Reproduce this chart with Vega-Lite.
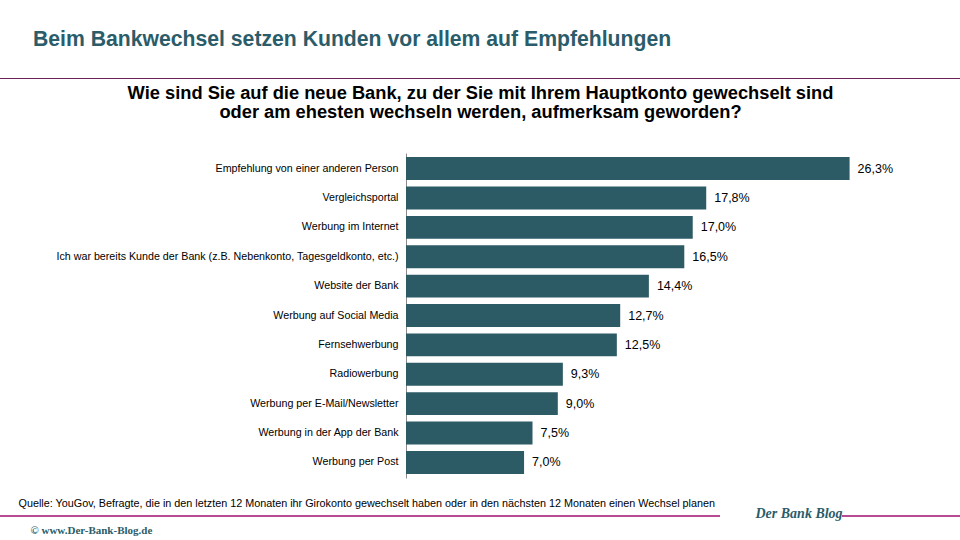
{
  "$schema": "https://vega.github.io/schema/vega-lite/v6.json",
  "width": 506,
  "height": 325,
  "autosize": {"type": "none"},
  "padding": {"left": 406, "top": 153, "right": 48, "bottom": 62},
  "background": "#ffffff",
  "config": {
    "view": {"stroke": null},
    "font": "Liberation Sans",
    "locale": {"number": {"decimal": ",", "thousands": ".", "grouping": [3], "currency": ["", " €"]}}
  },
  "title": {
    "text": "Beim Bankwechsel setzen Kunden vor allem auf Empfehlungen",
    "anchor": "start",
    "frame": "group",
    "dx": -373,
    "dy": 19,
    "fontSize": 21.2,
    "font": "Liberation Sans",
    "fontWeight": "bold",
    "color": "#2b5c69",
    "baseline": "alphabetic",
    "offset": 30
  },
  "data": {
    "values": [
      {"quelle": "Empfehlung von einer anderen Person", "anteil": 0.263},
      {"quelle": "Vergleichsportal", "anteil": 0.178},
      {"quelle": "Werbung im Internet", "anteil": 0.170},
      {"quelle": "Ich war bereits Kunde der Bank (z.B. Nebenkonto, Tagesgeldkonto, etc.)", "anteil": 0.165},
      {"quelle": "Website der Bank", "anteil": 0.144},
      {"quelle": "Werbung auf Social Media", "anteil": 0.127},
      {"quelle": "Fernsehwerbung", "anteil": 0.125},
      {"quelle": "Radiowerbung", "anteil": 0.093},
      {"quelle": "Werbung per E-Mail/Newsletter", "anteil": 0.090},
      {"quelle": "Werbung in der App der Bank", "anteil": 0.075},
      {"quelle": "Werbung per Post", "anteil": 0.070}
    ]
  },
  "resolve": {"axis": {"x": "independent", "y": "independent"}},
  "layer": [
    {
      "mark": {"type": "bar", "color": "#2c5b66"},
      "encoding": {
        "y": {
          "field": "quelle", "type": "nominal", "sort": null,
          "scale": {"paddingInner": 0.22, "paddingOuter": 0.14},
          "axis": {
            "title": "©  www.Der-Bank-Blog.de",
            "titleAngle": 0, "titleX": -376, "titleY": 380,
            "titleAlign": "left", "titleBaseline": "alphabetic",
            "titleFont": "Liberation Serif", "titleFontSize": 11, "titleFontWeight": "bold", "titleColor": "#2b5c69",
            "ticks": false, "tickSize": 0, "labelPadding": 8,
            "labelFont": "Liberation Sans", "labelFontSize": 10.7, "labelColor": "#000000",
            "labelLimit": 400,
            "domainColor": "#8c8c8c", "domainWidth": 1
          }
        },
        "x": {
          "field": "anteil", "type": "quantitative",
          "scale": {"domain": [0, 0.30]},
          "axis": {
            "orient": "top",
            "title": ["Wie sind Sie auf die neue Bank, zu der Sie mit Ihrem Hauptkonto gewechselt sind", "oder am ehesten wechseln werden, aufmerksam geworden?"],
            "titleX": 74, "titleY": -55, "titleAlign": "center", "titleBaseline": "alphabetic",
            "titleFont": "Liberation Sans", "titleFontSize": 18.3, "titleFontWeight": "bold", "titleColor": "#000000",
            "titleLineHeight": 19.5,
            "labels": false, "ticks": false, "domain": false, "grid": false
          }
        }
      }
    },
    {
      "mark": {"type": "text", "align": "left", "baseline": "middle", "dx": 8, "fontSize": 12.5, "font": "Liberation Sans", "color": "#000000"},
      "encoding": {
        "y": {
          "field": "quelle", "type": "nominal", "sort": null,
          "axis": {
            "orient": "right",
            "title": "Der Bank Blog",
            "titleAngle": 0, "titleX": -157, "titleY": 364,
            "titleAlign": "left", "titleBaseline": "alphabetic",
            "titleFont": "Liberation Serif", "titleFontSize": 14, "titleFontWeight": "bold", "titleFontStyle": "italic", "titleColor": "#2b5c69",
            "labels": false, "ticks": false, "domain": false, "grid": false
          }
        },
        "x": {
          "field": "anteil", "type": "quantitative",
          "axis": {
            "orient": "bottom",
            "title": "Quelle: YouGov, Befragte, die in den letzten 12 Monaten ihr Girokonto gewechselt haben oder in den nächsten 12 Monaten einen Wechsel planen",
            "titleX": -388, "titleY": 28, "titleAlign": "left", "titleBaseline": "alphabetic",
            "titleFont": "Liberation Sans", "titleFontSize": 10.8, "titleFontWeight": "normal", "titleColor": "#000000",
            "labels": false, "ticks": false, "domain": false, "grid": false
          }
        },
        "text": {"field": "anteil", "type": "quantitative", "format": ".1%"}
      }
    },
    {
      "data": {"values": [{}]},
      "mark": {"type": "rule", "color": "#6d1f57", "strokeWidth": 1},
      "encoding": {"x": {"value": -406}, "x2": {"value": 554}, "y": {"value": -74.5}}
    },
    {
      "data": {"values": [{}]},
      "mark": {"type": "rule", "color": "#a0106e", "strokeWidth": 1.5},
      "encoding": {"x": {"value": -406}, "x2": {"value": 314}, "y": {"value": 363}}
    },
    {
      "data": {"values": [{}]},
      "mark": {"type": "rule", "color": "#a0106e", "strokeWidth": 1.5},
      "encoding": {"x": {"value": 436}, "x2": {"value": 554}, "y": {"value": 363}}
    }
  ]
}
